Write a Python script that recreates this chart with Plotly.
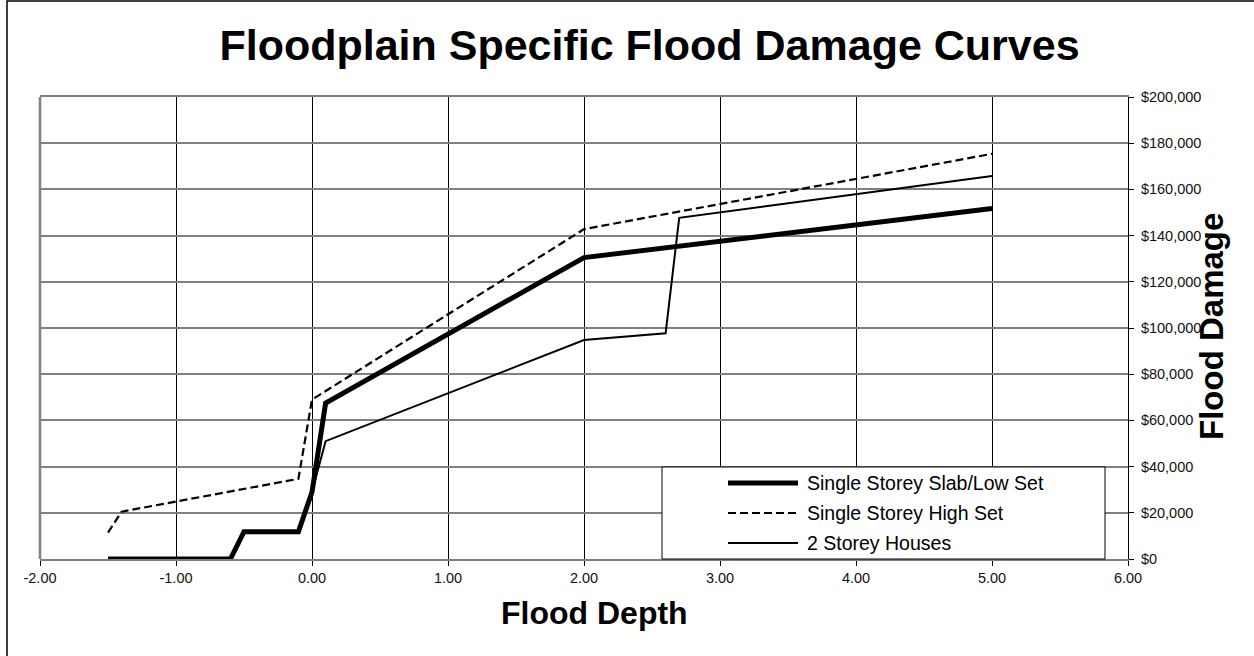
import plotly.graph_objects as go

# Flood depth (m) versus damage ($) for each house type
depth_slab = [-1.5, -0.6, -0.5, -0.1, 0.0, 0.1, 2.0, 5.0]
damage_slab = [0, 0, 11800, 11800, 29000, 67500, 130500, 151700]

depth_high = [-1.5, -1.4, -0.1, 0.0, 2.0, 5.0]
damage_high = [11400, 20500, 34700, 69000, 142800, 175400]

depth_two = [-1.5, -0.6, -0.5, -0.1, 0.0, 0.1, 2.0, 2.6, 2.7, 5.0]
damage_two = [0, 0, 11800, 11800, 29000, 51000, 94800, 97700, 147700, 165800]

series_names = ["Single Storey Slab/Low Set", "Single Storey High Set", "2 Storey Houses"]
x_ticks = [-2, -1, 0, 1, 2, 3, 4, 5, 6]
y_ticks = [0, 20000, 40000, 60000, 80000, 100000, 120000, 140000, 160000, 180000, 200000]
x_tick_text = [f"{v:.2f}" for v in x_ticks]
y_tick_text = [f"${v:,d}" for v in y_ticks]

FONT = "Liberation Sans, Arial, sans-serif"
W, H = 1254, 656
L, R, T, B = 40, 1128, 97, 559  # plot area in pixels


def px(x):
    return (x - L) / (R - L)


def py(y):
    return (B - y) / (B - T)


styles = [
    dict(color="black", width=5),
    dict(color="black", width=2.2, dash="8px,4px"),
    dict(color="black", width=2),
]

fig = go.Figure()
for name, xs, ys, st in zip(series_names,
                            [depth_slab, depth_high, depth_two],
                            [damage_slab, damage_high, damage_two],
                            styles):
    fig.add_trace(go.Scatter(x=xs, y=ys, mode="lines", name=name,
                             line=st, showlegend=False))

shapes = []
# outer chart frame
shapes.append(dict(type="rect", xref="paper", yref="paper",
                   x0=px(7), x1=px(1300), y0=py(700), y1=py(1),
                   line=dict(color="black", width=1.5), layer="below"))
# left border of plot area
shapes.append(dict(type="line", xref="paper", yref="paper",
                   x0=0, x1=0, y0=0, y1=1,
                   line=dict(color="#808080", width=2.5), layer="above"))

# legend box
lg_x0, lg_x1, lg_y0, lg_y1 = 662, 1105, 467, 559
shapes.append(dict(type="rect", xref="paper", yref="paper",
                   x0=px(lg_x0), x1=px(lg_x1), y0=py(lg_y1), y1=py(lg_y0),
                   line=dict(color="black", width=1), fillcolor="white",
                   layer="above"))

annotations = []
rows = [483, 513, 543]
for name, st, ry in zip(series_names, styles, rows):
    shapes.append(dict(type="line", xref="paper", yref="paper",
                       x0=px(728), x1=px(798), y0=py(ry), y1=py(ry),
                       line=st, layer="above"))
    annotations.append(dict(text=name, xref="paper", yref="paper",
                            x=px(805), y=py(ry), xanchor="left",
                            yanchor="middle", showarrow=False,
                            font=dict(family=FONT, size=19.5, color="black")))

annotations.append(dict(text="<b>Flood Depth</b>", xref="paper", yref="paper",
                        x=px(594), y=py(613), xanchor="center",
                        yanchor="middle", showarrow=False,
                        font=dict(family=FONT, size=32, color="black")))
annotations.append(dict(text="<b>Flood Damage</b>", xref="paper", yref="paper",
                        x=px(1211), y=py(327), xanchor="center",
                        yanchor="middle", showarrow=False, textangle=-90,
                        font=dict(family=FONT, size=33, color="black")))

fig.update_layout(
    width=W, height=H,
    margin=dict(l=L, r=W - R, t=T, b=H - B, pad=0),
    paper_bgcolor="white", plot_bgcolor="white",
    title=dict(text="<b>Floodplain Specific Flood Damage Curves</b>",
               x=649.5 / W, y=(H - 45) / H, xref="container", yref="container",
               xanchor="center", yanchor="middle",
               font=dict(family=FONT, size=43, color="black")),
    xaxis=dict(range=[-2, 6], tickvals=x_ticks, ticktext=x_tick_text,
               showgrid=True, gridcolor="black", gridwidth=1,
               showline=True, linecolor="#808080", linewidth=2, mirror=True,
               ticks="outside", ticklen=5, tickcolor="black", tickwidth=1,
               tickfont=dict(family=FONT, size=14.5, color="#111111"),
               zeroline=False, fixedrange=True),
    yaxis=dict(range=[0, 200000], tickvals=y_ticks, ticktext=y_tick_text,
               side="right", ticklabelstandoff=4,
               showgrid=True, gridcolor="#808080", gridwidth=1.5,
               showline=True, linecolor="black", linewidth=1,
               ticks="outside", ticklen=5, tickcolor="black", tickwidth=1,
               tickfont=dict(family=FONT, size=14.5, color="#111111"),
               zeroline=False, fixedrange=True),
    shapes=shapes,
    annotations=annotations,
)

fig.write_html("out.html")
